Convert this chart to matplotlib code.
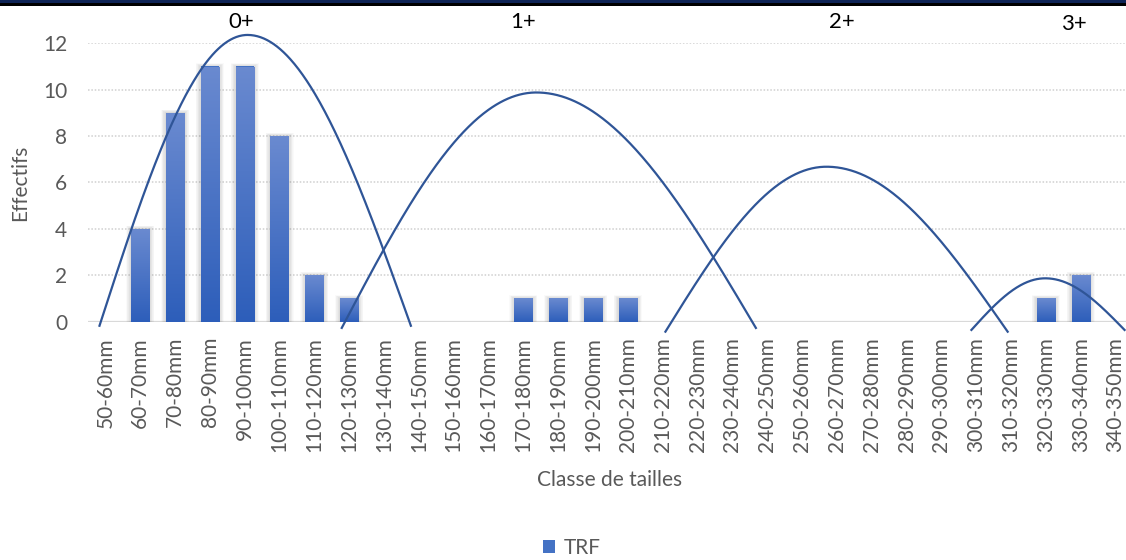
import numpy as np
import matplotlib
matplotlib.use("Agg")
import matplotlib.pyplot as plt
from matplotlib.patches import Rectangle, Patch
from matplotlib.colors import LinearSegmentedColormap

# Size classes (mm) and fish counts per class
classes = ["50-60mm", "60-70mm", "70-80mm", "80-90mm", "90-100mm", "100-110mm",
           "110-120mm", "120-130mm", "130-140mm", "140-150mm", "150-160mm",
           "160-170mm", "170-180mm", "180-190mm", "190-200mm", "200-210mm",
           "210-220mm", "220-230mm", "230-240mm", "240-250mm", "250-260mm",
           "260-270mm", "270-280mm", "280-290mm", "290-300mm", "300-310mm",
           "310-320mm", "320-330mm", "330-340mm", "340-350mm"]
counts = [0, 4, 9, 11, 11, 8, 2, 1, 0, 0, 0, 0, 1, 1, 1, 1,
          0, 0, 0, 0, 0, 0, 0, 0, 0, 0, 0, 1, 2, 0]
series_name = "TRF"

# Age-group arcs (x in class index units, y in counts)
age_labels = ["0+", "1+", "2+", "3+"]
arc_start_x = [-0.18, 6.77, 16.06, 24.84]
arc_peak_x = [4.08, 12.37, 20.70, 26.98]
arc_end_x = [8.78, 18.69, 25.92, 29.28]
arc_peak_y = [12.36, 9.88, 6.68, 1.87]
arc_foot_y = [-0.22, -0.31, -0.47, -0.39]
age_label_x = [3.90, 11.98, 21.14, 27.81]
age_label_y = [12.90, 12.90, 12.90, 12.83]

W, H = 1126, 560
plt.rcParams["font.family"] = ["Lato", "DejaVu Sans"]
GRAY = "#595959"

fig = plt.figure(figsize=(W / 100, H / 100), dpi=100)
ax_left, ax_right, ax_top, ax_bottom = 88, 1133, 43.3, 321.7
ax = fig.add_axes([ax_left / W, 1 - ax_bottom / H,
                   (ax_right - ax_left) / W, (ax_bottom - ax_top) / H])

n = len(classes)
x = np.arange(n)

# pixel -> data scale
px_x = n / (ax_right - ax_left)
px_y = 12 / (ax_bottom - ax_top)

# gridlines
for yv in range(2, 13, 2):
    ax.axhline(yv, color="#D0D0D0", lw=1.1, dashes=(1, 1.2), zorder=1)
ax.axhline(0, color="#D9D9D9", lw=1.6, zorder=2)

# bars with vertical gradient and soft shadow
bw = 0.53
bars = ax.bar(x, counts, width=bw, color="#4472C4", lw=0, zorder=4)
cmap = LinearSegmentedColormap.from_list("barfill", ["#2D5EBA", "#6A8AD0"])
grad = np.linspace(0, 1, 256).reshape(-1, 1)
for xi, v, b in zip(x, counts, bars):
    if v <= 0:
        continue
    for k in np.arange(0.6, 5.0, 0.6):
        ax.add_patch(Rectangle((xi - bw / 2 - k * px_x, -k * px_y * 0.7),
                               bw + 2 * k * px_x, v + k * px_y * 1.4,
                               facecolor="#404040", alpha=0.022, lw=0, zorder=3))
    im = ax.imshow(grad, extent=(xi - bw / 2, xi + bw / 2, 0, v), origin="lower",
                   cmap=cmap, aspect="auto", zorder=5, interpolation="bilinear")
    im.set_clip_path(b)
ax.set_xlim(-0.5, n - 0.5)
ax.set_ylim(0, 12)
ax.set_aspect("auto")

# age-group arcs
for x0, xp, x1, yp, yf in zip(arc_start_x, arc_peak_x, arc_end_x, arc_peak_y, arc_foot_y):
    u = np.linspace(0, 1, 200)
    xl = x0 + (xp - x0) * u
    yl = yf + (yp - yf) * np.sin(np.pi / 2 * u)
    xr = xp + (x1 - xp) * u
    yr = yf + (yp - yf) * np.cos(np.pi / 2 * u)
    ax.plot(np.concatenate([xl, xr]), np.concatenate([yl, yr]),
            color="#2F5597", lw=1.6, zorder=6, clip_on=False,
            solid_capstyle="butt")

for lab, lx, ly in zip(age_labels, age_label_x, age_label_y):
    ax.text(lx, ly, lab, ha="center", va="center", fontsize=16,
            color="black", clip_on=False, zorder=7)

# axes styling
for s in ax.spines.values():
    s.set_visible(False)
ax.set_yticks(range(0, 13, 2))
ax.set_xticks(x)
ax.set_xticklabels(classes, rotation=90, va="top", ha="center")
ax.tick_params(axis="y", length=0, pad=15, labelsize=15, labelcolor=GRAY)
ax.tick_params(axis="x", length=0, pad=11, labelsize=15, labelcolor=GRAY)

fig.text(20 / W, 1 - 183 / H, "Effectifs", rotation=90, ha="center", va="center",
         fontsize=15, color=GRAY)
fig.text(610 / W, 1 - 480 / H, "Classe de tailles", ha="center", va="center",
         fontsize=15, color=GRAY)

leg = fig.legend(handles=[Patch(facecolor="#4472C4", edgecolor="none")],
                 labels=[series_name], loc="center",
                 bbox_to_anchor=(572 / W, 1 - 548 / H), frameon=False,
                 handlelength=0.55, handleheight=0.55, handletextpad=0.45,
                 fontsize=15)
for t in leg.get_texts():
    t.set_color(GRAY)

# top banner
fig.patches.append(Rectangle((0, 1 - 3 / H), 1, 3 / H, transform=fig.transFigure,
                             facecolor="#0F2456", lw=0, zorder=10))
fig.patches.append(Rectangle((0, 1 - 5.5 / H), 1, 2.5 / H, transform=fig.transFigure,
                             facecolor="black", lw=0, zorder=10))

fig.savefig("out.png", dpi=100)
